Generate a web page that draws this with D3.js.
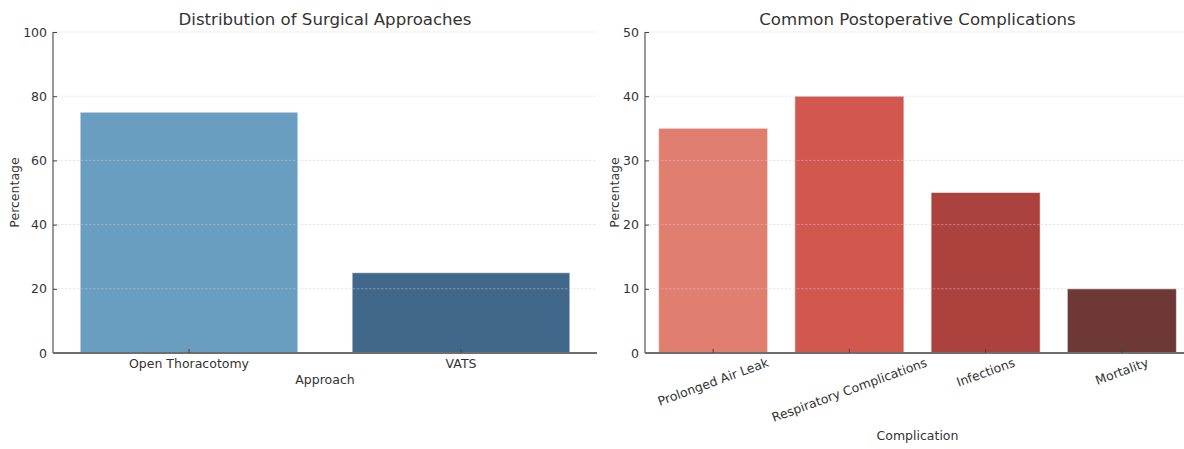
<!DOCTYPE html>
<html><head><meta charset="utf-8">
<script src="https://cdn.jsdelivr.net/npm/d3@7"></script>
<style>
body{margin:0;background:#fff;}
text{font-family:"DejaVu Sans",sans-serif;}
</style></head>
<body>
<svg id="c" width="1184" height="449"></svg>
<script>
const approaches = ["Open Thoracotomy", "VATS"];
const approachValues = [75, 25];
const approachColors = ["#6a9ec0", "#41688a"];
const approachTicks = [0, 20, 40, 60, 80, 100];

const complications = ["Prolonged Air Leak", "Respiratory Complications", "Infections", "Mortality"];
const complicationValues = [35, 40, 25, 10];
const complicationColors = ["#e07f6f", "#d1574f", "#ac423d", "#6e3836"];
const complicationTicks = [0, 10, 20, 30, 40, 50];

const svg = d3.select("#c");

function panel(opt){
  const g = svg.append("g");
  const x = d3.scaleBand().domain(opt.cats).range([opt.x0, opt.x1]).paddingInner(0.2).paddingOuter(0.1);
  const y = d3.scaleLinear().domain([0, opt.ymax]).range([353, 32]);
  g.selectAll("rect.bar").data(opt.cats).enter().append("rect")
    .attr("x", d => x(d)).attr("width", x.bandwidth())
    .attr("y", (d,i) => y(opt.vals[i])).attr("height", (d,i) => y(0) - y(opt.vals[i]))
    .attr("fill", (d,i) => opt.colors[i])
    .attr("stroke", "#ffffff").attr("stroke-opacity", 0.5).attr("stroke-width", 1);
  g.selectAll("line.grid").data(opt.ticks).enter().append("line")
    .attr("x1", opt.x0).attr("x2", opt.x1)
    .attr("y1", d => y(d)).attr("y2", d => y(d))
    .attr("stroke", "#cccccc").attr("stroke-opacity", 0.6)
    .attr("stroke-width", 0.8).attr("stroke-dasharray", "2.5,1.5");
  const yAx = d3.axisLeft(y).tickValues(opt.ticks).tickSize(-4).tickPadding(6).tickFormat(d3.format("d"));
  const ga = g.append("g").attr("transform", `translate(${opt.x0},0)`).call(yAx);
  ga.select(".domain").attr("stroke", "#555").attr("stroke-width", 1.2).attr("d", `M0,${y(opt.ymax)}V${y(0)}`);
  ga.selectAll(".tick line").attr("stroke", "#444").attr("stroke-width", 1);
  ga.selectAll(".tick text").attr("fill", "#333").style("font-size", "12.5px").style("font-family", "DejaVu Sans");
  const xAx = d3.axisBottom(x).tickSize(-4).tickPadding(6);
  const gx = g.append("g").attr("transform", "translate(0,353)").call(xAx);
  gx.select(".domain").attr("stroke", "#6e6e6e").attr("stroke-width", 1.8).attr("d", `M${opt.x0},0H${opt.x1}`);
  gx.selectAll(".tick line").attr("stroke", "#444").attr("stroke-width", 1);
  gx.selectAll(".tick text").attr("fill", "#333").style("font-size", "12.5px").style("font-family", "DejaVu Sans");
  if (opt.rotate) {
    gx.selectAll(".tick text").each(function(){
      const t = d3.select(this);
      const w = this.getComputedTextLength();
      const h = 12.5;
      const a = opt.rotate * Math.PI / 180;
      const bh = w * Math.sin(a) + h * Math.cos(a);
      t.attr("y", null).attr("dy", "0.35em").attr("text-anchor", "middle")
       .attr("transform", `translate(0,${3 + bh/2}) rotate(${-opt.rotate})`);
    });
  }
  const cx = (opt.x0 + opt.x1) / 2;
  g.append("text").attr("x", cx).attr("y", 25).attr("text-anchor", "middle")
    .attr("fill", "#333").style("font-size", "16.6px").text(opt.title);
  g.append("text").attr("x", cx).attr("y", opt.xlabY).attr("text-anchor", "middle")
    .attr("fill", "#333").style("font-size", "12.5px").text(opt.xlabel);
  g.append("text").attr("transform", `translate(${opt.ylabX},${(32+353)/2}) rotate(-90)`)
    .attr("text-anchor", "middle").attr("fill", "#333").style("font-size", "12.5px").text("Percentage");
}

panel({cats: approaches, vals: approachValues, colors: approachColors, ticks: approachTicks, ymax: 100,
  x0: 53, x1: 597, title: "Distribution of Surgical Approaches", xlabel: "Approach", xlabY: 384, ylabX: 19});
panel({cats: complications, vals: complicationValues, colors: complicationColors, ticks: complicationTicks, ymax: 50,
  x0: 645, x1: 1190, title: "Common Postoperative Complications", xlabel: "Complication", xlabY: 440, ylabX: 619, rotate: 20});
</script>
</body></html>
